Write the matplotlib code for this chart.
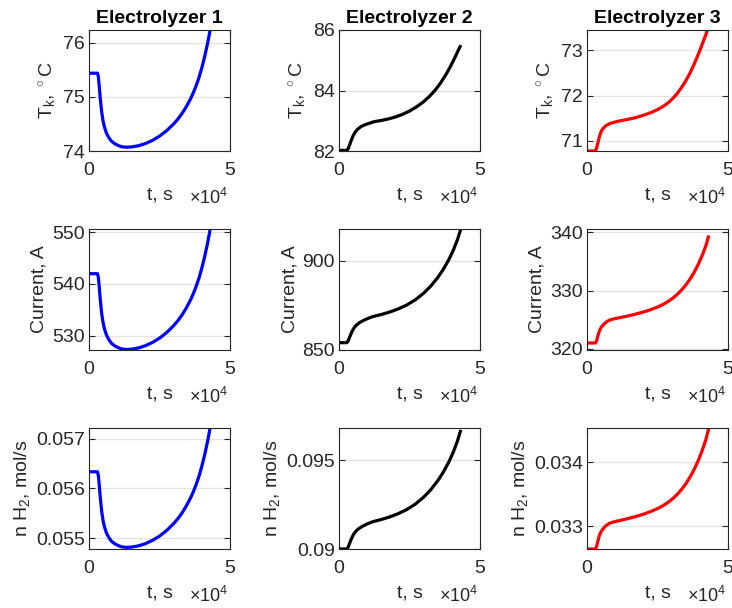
import matplotlib
matplotlib.use("Agg")
import matplotlib.pyplot as plt

plt.rcParams['font.family'] = ['Liberation Sans', 'DejaVu Sans']
plt.rcParams['mathtext.fontset'] = 'custom'
plt.rcParams['mathtext.rm'] = 'Liberation Sans'
plt.rcParams['mathtext.it'] = 'Liberation Sans'

# ---- data (t in seconds) ----
# Electrolyzer 1
t1 = [0, 3000, 3300, 3600, 4000, 4500, 5000, 5500, 6200, 7000, 8000, 9000, 10000, 11500,
      13200, 15000, 17500, 20000, 22500, 25000, 27500, 30000, 31500, 33000, 34500, 36000,
      37000, 38000, 39000, 40000, 41000, 42000, 42600, 43200]
temp1 = [75.44, 75.44, 75.38, 75.22, 74.97, 74.72, 74.55, 74.44, 74.33, 74.25, 74.18, 74.14,
         74.11, 74.08, 74.07, 74.075, 74.097, 74.138, 74.197, 74.275, 74.375, 74.50, 74.59,
         74.695, 74.82, 74.965, 75.08, 75.21, 75.36, 75.54, 75.745, 75.98, 76.14, 76.32]
curr1 = [541.96, 541.96, 541.32, 539.61, 536.93, 534.26, 532.44, 531.26, 530.08, 529.23,
         528.48, 528.05, 527.73, 527.41, 527.30, 527.35, 527.59, 528.03, 528.66, 529.49,
         530.56, 531.90, 532.86, 533.99, 535.33, 536.88, 538.11, 539.50, 541.10, 543.03,
         545.22, 547.74, 549.45, 551.38]
h2_1 = [0.056337, 0.056337, 0.056270, 0.056092, 0.055814, 0.055536, 0.055347, 0.055224,
        0.055102, 0.055013, 0.054935, 0.054891, 0.054858, 0.054824, 0.054813, 0.054818,
        0.054843, 0.054888, 0.054954, 0.055040, 0.055152, 0.055291, 0.055391, 0.055508,
        0.055648, 0.055809, 0.055936, 0.056081, 0.056247, 0.056448, 0.056676, 0.056938,
        0.057115, 0.057316]

# Electrolyzer 2
t2 = [0, 2800, 3200, 3700, 4300, 4900, 5700, 6600, 7700, 9000, 10500, 12500, 15000, 17500,
      20000, 22500, 25000, 27500, 30000, 32000, 34000, 36000, 38000, 39500, 41000, 42200, 43200]
temp2 = [82.02, 82.02, 82.07, 82.18, 82.34, 82.48, 82.62, 82.72, 82.80, 82.86, 82.91, 82.97,
         83.01, 83.06, 83.125, 83.21, 83.32, 83.46, 83.63, 83.80, 84.0, 84.245, 84.54, 84.79,
         85.07, 85.31, 85.50]
t2i = [0, 2800, 3200, 3800, 4500, 5300, 6200, 7300, 8500, 10000, 12000, 15000, 18000, 21000,
       24000, 27000, 30000, 32500, 35000, 37000, 39000, 40500, 42000, 43200]
curr2 = [854.1, 854.1, 855.0, 857.3, 860.0, 862.3, 864.0, 865.3, 866.4, 867.5, 868.7, 869.86,
         871.25, 872.98, 875.15, 878.0, 881.75, 885.7, 890.5, 895.15, 900.7, 905.7, 911.7, 917.7]
h2_2 = [0.09000, 0.09000, 0.090091, 0.090334, 0.090618, 0.090860, 0.091040, 0.091177,
        0.091292, 0.091408, 0.091535, 0.091657, 0.091804, 0.091986, 0.092214, 0.092515,
        0.092910, 0.093326, 0.093832, 0.094322, 0.094907, 0.095434, 0.096066, 0.096698]

# Electrolyzer 3
t3 = [0, 3000, 3400, 3900, 4500, 5100, 5900, 6800, 8000, 9500, 11500, 14000, 17000, 20000,
      22500, 25000, 27000, 29000, 30500, 32000, 33500, 35000, 36500, 38000, 39500, 41000,
      42200, 43200]
temp3 = [70.78, 70.78, 70.85, 70.97, 71.12, 71.22, 71.29, 71.34, 71.38, 71.41, 71.44, 71.47,
         71.51, 71.566, 71.62, 71.69, 71.76, 71.85, 71.94, 72.045, 72.175, 72.32, 72.49, 72.69,
         72.91, 73.15, 73.35, 73.53]
curr3 = [321.0, 321.0, 321.4, 322.3, 323.2, 323.75, 324.2, 324.6, 324.95, 325.15, 325.35,
         325.6, 325.94, 326.33, 326.72, 327.18, 327.64, 328.22, 328.74, 329.36, 330.09, 330.95,
         331.97, 333.16, 334.57, 336.24, 337.79, 339.5]
h2_3 = [0.032649, 0.032649, 0.032690, 0.032782, 0.032873, 0.032929, 0.032974, 0.033015,
        0.033051, 0.033071, 0.033091, 0.033117, 0.033151, 0.033191, 0.033231, 0.033277,
        0.033324, 0.033383, 0.033436, 0.033499, 0.033574, 0.033661, 0.033765, 0.033886,
        0.034029, 0.034199, 0.034357, 0.034531]

titles = ["Electrolyzer 1", "Electrolyzer 2", "Electrolyzer 3"]
colors = ["#0000ff", "#000000", "#ff0000"]
ylabels = [r'T$_\mathregular{k}$, $^\circ$C', 'Current, A', r'n H$_\mathregular{2}$, mol/s']

# per panel: (t, y, ylim, yticks, yticklabels)
panels = [
    [(t1, temp1, (74, 76.24), [74, 75, 76], ['74', '75', '76']),
     (t2, temp2, (82, 86), [82, 84, 86], ['82', '84', '86']),
     (t3, temp3, (70.78, 73.44), [71, 72, 73], ['71', '72', '73'])],
    [(t1, curr1, (527.2, 550.6), [530, 540, 550], ['530', '540', '550']),
     (t2i, curr2, (850, 917.7), [850, 900], ['850', '900']),
     (t3, curr3, (319.8, 340.6), [320, 330, 340], ['320', '330', '340'])],
    [(t1, h2_1, (0.05478, 0.05722), [0.055, 0.056, 0.057], ['0.055', '0.056', '0.057']),
     (t2i, h2_2, (0.0900, 0.0968), [0.09, 0.095], ['0.09', '0.095']),
     (t3, h2_3, (0.03265, 0.03453), [0.033, 0.034], ['0.033', '0.034'])],
]

W, H = 732, 608
lefts = [89, 339, 587]
bottoms = [151, 350, 549]
aw, ah = 141, 121

fig = plt.figure(figsize=(W / 100, H / 100), dpi=100)
edge = '#262626'

for r in range(3):
    for c in range(3):
        t, y, ylim, yt, ytl = panels[r][c]
        ax = fig.add_axes([lefts[c] / W, 1 - bottoms[r] / H, aw / W, ah / H])
        ax.plot(t, y, color=colors[c], lw=2.3, solid_capstyle='butt')
        ax.set_xlim(0, 50000)
        ax.set_ylim(*ylim)
        ax.set_xticks([0, 50000])
        ax.set_xticklabels(['0', '5'])
        ax.set_yticks(yt)
        ax.set_yticklabels(ytl)
        ax.yaxis.grid(True, color='#e3e3e3', lw=0.9)
        ax.set_axisbelow(True)
        ax.tick_params(direction='in', length=4, width=0.8, colors=edge,
                       labelsize=14, right=True, top=True)
        ax.tick_params(axis='x', pad=8)
        ax.tick_params(axis='y', pad=3)
        for s in ax.spines.values():
            s.set_color(edge)
            s.set_linewidth(0.8)
        ax.set_ylabel(ylabels[r], fontsize=14, color=edge, labelpad=3)
        ax.set_xlabel('t, s', fontsize=14, color=edge, labelpad=5)
        ax.text(0.99, -0.44, r'$\mathregular{\times10^{4}}$', transform=ax.transAxes,
                ha='right', va='baseline', fontsize=13, color=edge)
        if r == 0:
            ax.set_title(titles[c], fontsize=14, fontweight='bold', pad=5)

fig.savefig("out.png", dpi=100)
